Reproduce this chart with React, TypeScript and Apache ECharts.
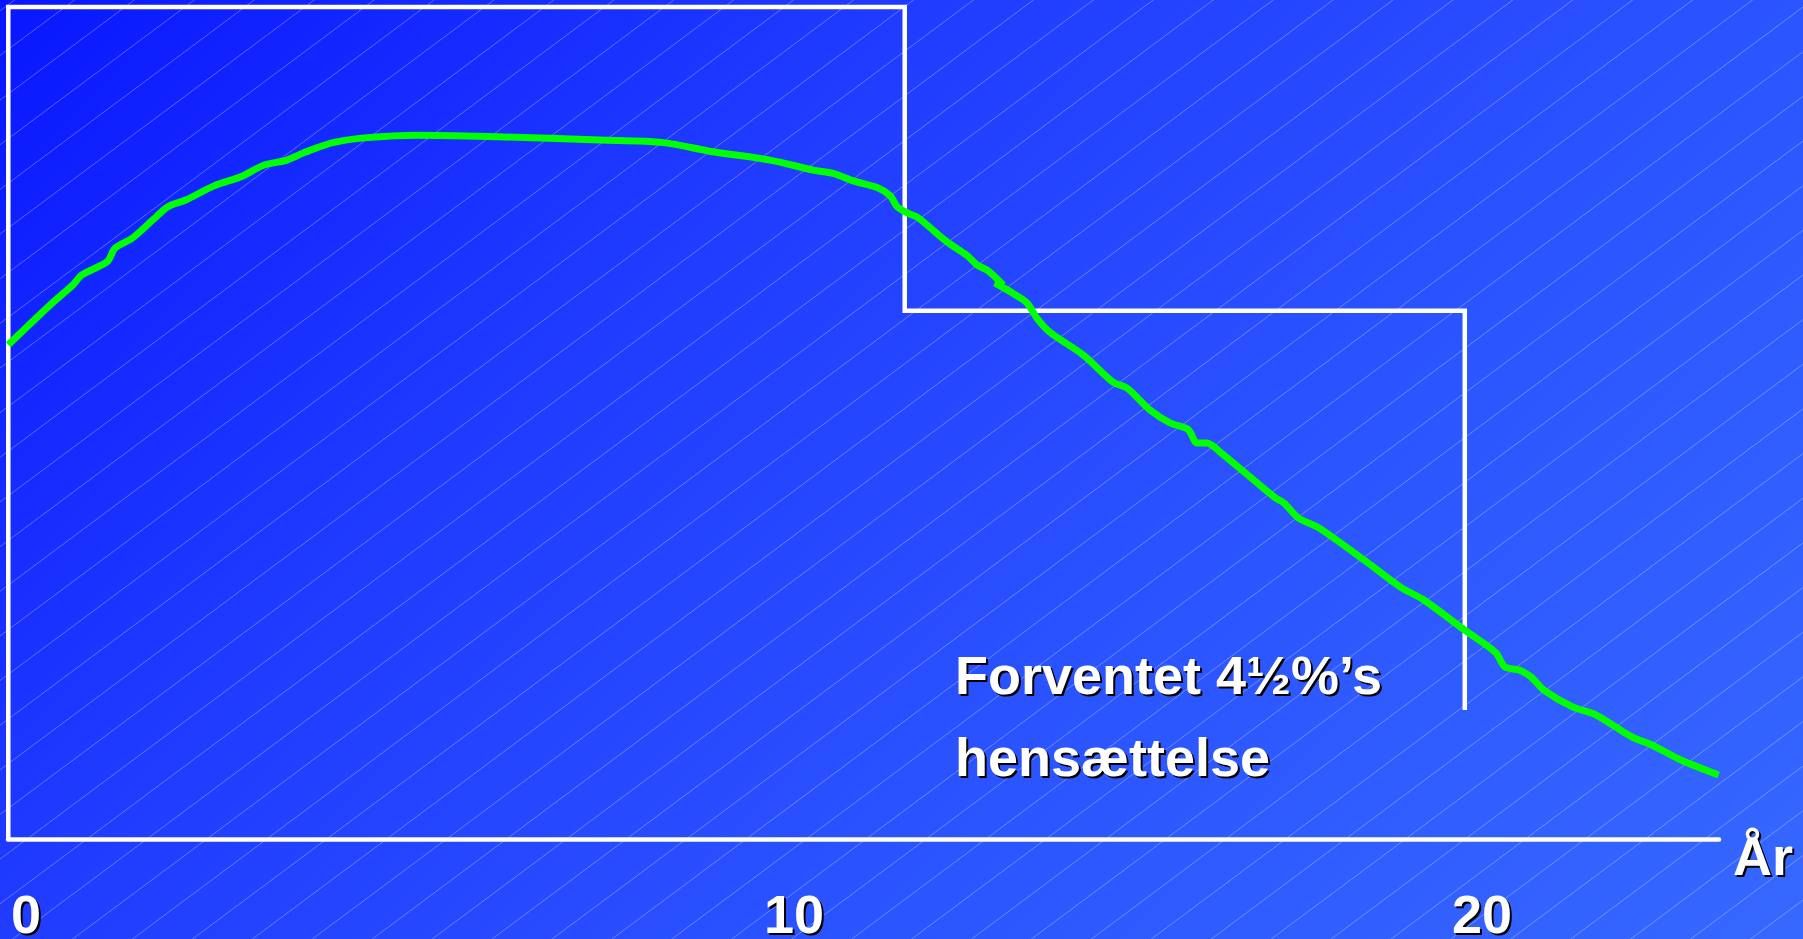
import React, { useEffect, useRef } from "react";
import * as echarts from "echarts";

// Green curve (years, value as % of top level)
const curveYears = [
  -1.42, -0.81, -0.48, -0.35, 0.02, 0.13, 0.38, 0.68, 0.9, 1.16, 1.57, 1.96, 2.3, 2.63, 2.91, 3.3, 3.79,
  4.52, 5.7, 7.18, 8.1, 8.82, 9.65, 10.28, 10.57, 10.86, 11.21, 11.4, 11.5, 11.66, 11.8, 12.22, 12.52,
  12.66, 12.82, 13.04, 12.92, 13.14, 13.39, 13.53, 13.72, 14.2, 14.64, 14.84, 15.17, 15.47, 15.73,
  15.86, 16.0, 16.21, 16.98, 17.12, 17.33, 17.63, 18.34, 18.81, 19.16, 19.75, 20.2, 20.33, 20.54,
  20.71, 20.9, 21.31, 21.66, 22.17, 22.47, 22.89, 23.44,
];
const curveValues = [
  59.4, 64.2, 66.6, 67.8, 69.4, 71.0, 72.2, 74.4, 76.0, 76.8, 78.5, 79.6, 81.0, 81.6, 82.6, 83.7, 84.3,
  84.6, 84.4, 84.0, 83.7, 82.6, 81.6, 80.4, 80.0, 79.1, 78.3, 77.3, 76.0, 75.2, 74.7, 71.8, 70.1,
  69.0, 68.3, 66.6, 66.8, 65.8, 64.4, 62.6, 60.9, 58.2, 54.9, 54.2, 51.6, 50.0, 49.2,
  47.6, 47.6, 46.4, 41.1, 40.4, 38.6, 37.4, 33.2, 30.3, 28.7, 25.1, 22.4, 20.7, 20.3,
  19.5, 17.9, 15.9, 14.9, 12.3, 11.3, 9.5, 7.7,
];

// White step outline: expected 4½% provision
const provisionYears = [-1.42, -1.42, 11.61, 11.61, 19.75, 19.75];
const provisionValues = [0, 100, 100, 63.5, 63.5, 15.5];

const tickValues = [0, 10, 20];
const axisName = "År";
const annotation = "Forventet 4½%’s\nhensættelse";

export default function App() {
  const ref = useRef<HTMLDivElement>(null);

  useEffect(() => {
    const el = ref.current as HTMLDivElement;
    const chart = echarts.init(el, null, { renderer: "svg" });
    const W = 1803;
    const H = 939;
    const font = "'Liberation Sans', Arial, sans-serif";
    const XMIN = -1.424;
    const XMAX = 23.445;

    const hatch: any[] = [];
    const slope = 0.745;
    const gap = 44.65;
    for (let c = 10.8; c < H + slope * W + gap; c += gap) {
      hatch.push({
        type: "line",
        silent: true,
        z: -1,
        shape: { x1: 0, y1: c, x2: W, y2: c - slope * W },
        style: { stroke: "rgba(255,255,255,0.3)", lineWidth: 1 },
      });
    }

    const textBase = (color: string) => ({
      color,
      fontSize: 54,
      lineHeight: 36,
      fontWeight: "bold",
      fontFamily: font,
    });

    // builds an x axis; "dx/dy" shift is used for the black drop-shadow copy
    const makeAxis = (color: string, dx: number, dy: number, withLine: boolean, z: number) => ({
      type: "value",
      position: "bottom",
      min: XMIN,
      max: XMAX,
      z,
      axisLine: {
        show: withLine,
        onZero: false,
        lineStyle: { color: "#fff", width: 4.5 },
      },
      axisTick: { show: false },
      splitLine: { show: false },
      axisLabel: {
        customValues: tickValues,
        margin: 57 + dy,
        ...textBase(color),
        formatter: (v: number) => (v === 0 ? `{shift|${v}}` : `{n|${v}}`),
        rich: {
          shift: { ...textBase(color), padding: [0, 160 - dx * 2, 0, 0] },
          n: { ...textBase(color), padding: [0, 0, 0, dx * 2] },
        },
      },
      name: `{a|${axisName}}`,
      nameLocation: "end",
      nameGap: 14 + dx,
      nameMoveOverlap: false,
      nameTextStyle: {
        ...textBase(color),
        rich: {
          a: { ...textBase(color), lineHeight: 54, padding: [34 + dy * 2, 0, 0, 0] },
        },
      },
    });

    chart.setOption({
      animation: false,
      grid: {
        left: 8,
        top: 7,
        right: 84,
        bottom: 100,
        containLabel: false,
        outerBoundsMode: "none",
      },
      xAxis: [makeAxis("#000", 2, 2, false, 0), makeAxis("#fff", 0, 0, true, 1)],
      yAxis: { type: "value", min: 0, max: 100, show: false },
      series: [
        {
          type: "line",
          xAxisIndex: 1,
          data: provisionYears.map((x, i) => [x, provisionValues[i]]),
          symbol: "none",
          clip: false,
          z: 2,
          lineStyle: { color: "#fff", width: 4.5, join: "miter" },
        },
        {
          type: "line",
          xAxisIndex: 1,
          data: curveYears.map((x, i) => [x, curveValues[i]]),
          symbol: "none",
          smooth: 0.3,
          clip: false,
          z: 3,
          lineStyle: { color: "#00ff00", width: 7 },
        },
      ],
      graphic: [
        {
          type: "rect",
          silent: true,
          z: -2,
          shape: { x: 0, y: 0, width: W, height: H },
          style: {
            fill: new echarts.graphic.LinearGradient(
              0,
              0,
              1371,
              1371,
              [
                { offset: 0, color: "#0817ff" },
                { offset: 0.33, color: "#203bff" },
                { offset: 0.66, color: "#2b55ff" },
                { offset: 1, color: "#3668ff" },
              ],
              true
            ),
          },
        },
        ...hatch,
        {
          type: "text",
          z: 9,
          x: 957,
          y: 718,
          style: {
            text: annotation,
            fill: "#000",
            fontSize: 54,
            fontWeight: "bold",
            fontFamily: font,
            lineHeight: 81.5,
            align: "left",
            verticalAlign: "middle",
          },
        },
        {
          type: "text",
          z: 10,
          x: 955,
          y: 716,
          style: {
            text: annotation,
            fill: "#fff",
            fontSize: 54,
            fontWeight: "bold",
            fontFamily: font,
            lineHeight: 81.5,
            align: "left",
            verticalAlign: "middle",
          },
        },
      ],
    });

    return () => {
      chart.dispose();
    };
  }, []);

  return (
    <div
      ref={ref}
      style={{ position: "fixed", left: 0, top: 0, width: 1803, height: 939 }}
    />
  );
}
